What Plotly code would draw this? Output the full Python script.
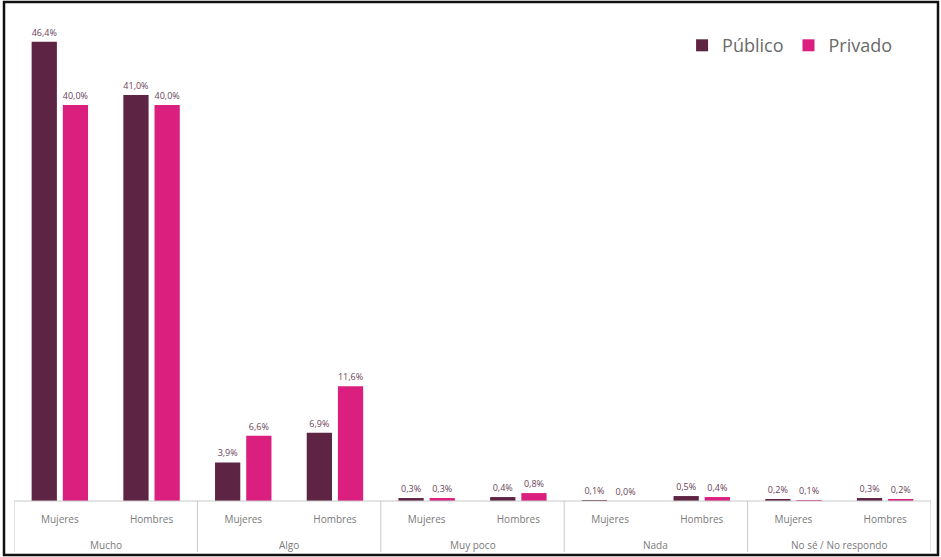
import plotly.graph_objects as go

groups = ["Mucho", "Algo", "Muy poco", "Nada", "No sé / No respondo"]
subcats = ["Mujeres", "Hombres"]
publico = [46.4, 41.0, 3.9, 6.9, 0.3, 0.4, 0.1, 0.5, 0.2, 0.3]
privado = [40.0, 40.0, 6.6, 11.6, 0.3, 0.8, 0.0, 0.4, 0.1, 0.2]

sub_labels = [s for _ in groups for s in subcats]
xpos = list(range(len(sub_labels)))

def fmt(vals):
    return [f"{v:.1f}".replace(".", ",") + "%" for v in vals]

W, H = 941, 557
ml, mr, mt, mb = 14, 10, 6, 56
pw, ph = W - ml - mr, H - mt - mb

def px_x(p):
    return (p - ml) / pw
def px_y(p):
    return (H - mb - p) / ph

label_font = dict(size=9, color="#6a4358", family="Open Sans")

fig = go.Figure()
fig.add_trace(go.Bar(
    name="Público", x=xpos, y=publico,
    marker=dict(color="#5e2444", line=dict(width=0)),
    text=fmt(publico), textposition="outside", cliponaxis=False,
    textfont=label_font,
))
fig.add_trace(go.Bar(
    name="Privado", x=xpos, y=privado,
    marker=dict(color="#da1f7e", line=dict(width=0)),
    text=fmt(privado), textposition="outside", cliponaxis=False,
    textfont=label_font,
))

line_col = "#c8c8c8"
# baseline
fig.add_shape(type="line", xref="x", yref="paper", x0=-0.5, x1=len(xpos) - 0.5,
              y0=0, y1=0, line=dict(color=line_col, width=1))
# group dividers
for i in range(len(groups) + 1):
    xv = i * len(subcats) - 0.5
    fig.add_shape(type="line", xref="x", yref="paper", x0=xv, x1=xv,
                  y0=0, y1=px_y(552), line=dict(color=line_col, width=1))
# group labels
for i, g in enumerate(groups):
    fig.add_annotation(x=i * len(subcats) + (len(subcats) - 1) / 2, xref="x",
                       y=px_y(545), yref="paper", text=g, showarrow=False,
                       font=dict(size=10, color="#7a7a7a", family="Open Sans"),
                       xanchor="center", yanchor="middle")

# outer border of the image
fig.add_shape(type="rect", xref="paper", yref="paper",
              x0=px_x(4), x1=px_x(938), y0=px_y(555), y1=px_y(2),
              line=dict(color="#111111", width=2.5), layer="above")

fig.update_layout(
    width=W, height=H,
    margin=dict(l=ml, r=mr, t=mt, b=mb, autoexpand=False),
    paper_bgcolor="white", plot_bgcolor="white",
    barmode="group", bargap=0.32, bargroupgap=0.19,
    showlegend=True,
    legend=dict(orientation="h", x=0.963, xanchor="right", y=0.92, yanchor="middle",
                font=dict(size=18, color="#6a6a6a", family="Open Sans"),
                traceorder="normal", itemwidth=30),
    xaxis=dict(range=[-0.5, len(xpos) - 0.5], tickmode="array", tickvals=xpos,
               ticktext=sub_labels, ticks="", showgrid=False, zeroline=False,
               showline=False, automargin=False, ticklabelstandoff=11,
               tickfont=dict(size=10, color="#7a7a7a", family="Open Sans")),
    yaxis=dict(range=[0, 50], visible=False, showgrid=False, automargin=False),
    font=dict(family="Open Sans"),
)

fig.write_html("out.html", config={"displayModeBar": False},
               post_script="document.body.style.margin='0';document.body.style.overflow='hidden';")
